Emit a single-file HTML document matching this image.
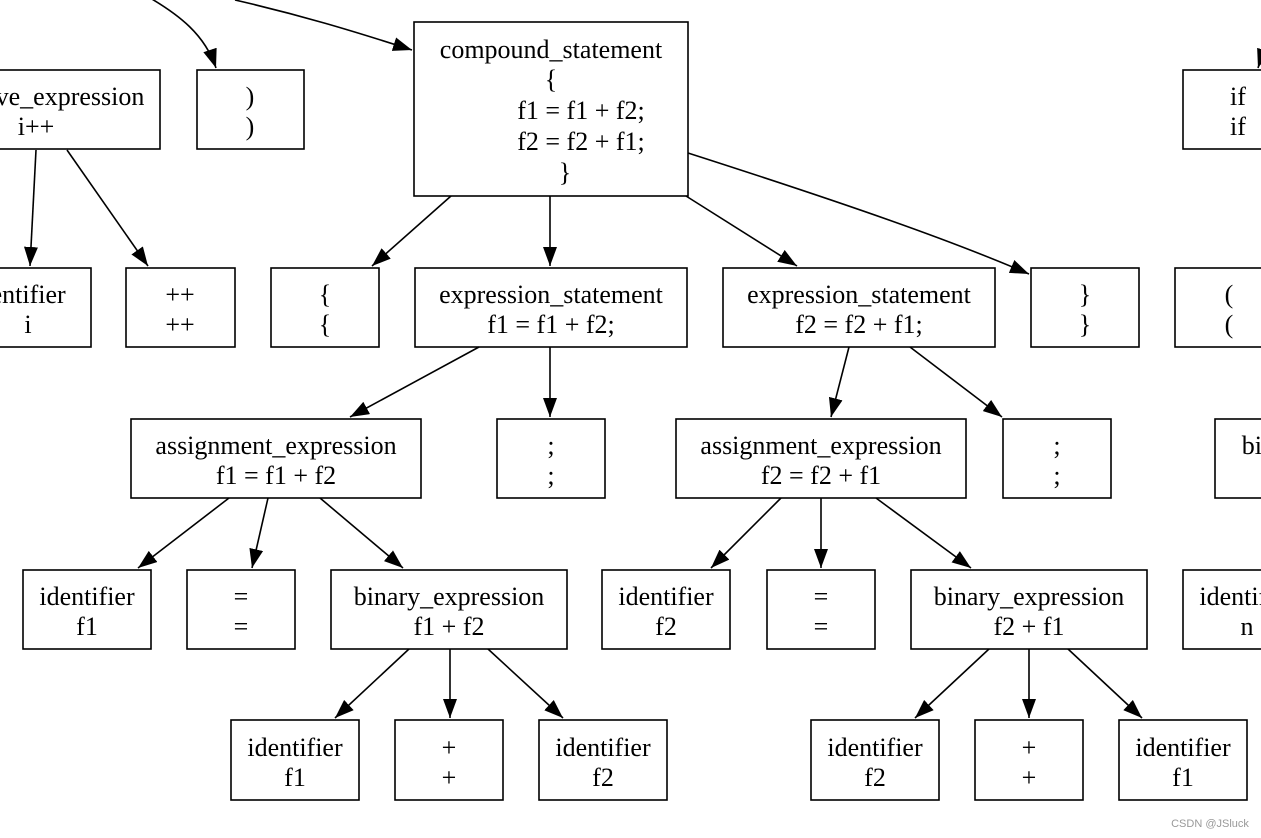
<!DOCTYPE html>
<html><head><meta charset="utf-8"><style>
html,body{margin:0;padding:0;background:#fff;width:1261px;height:838px;overflow:hidden}
svg text{font-family:"Liberation Serif",serif;font-size:26px;fill:#000;text-anchor:middle}
</style></head><body>
<svg width="1261" height="838" viewBox="0 0 1261 838" xmlns="http://www.w3.org/2000/svg">
<defs><marker id="a" markerUnits="userSpaceOnUse" markerWidth="20" markerHeight="14" refX="19" refY="7" orient="auto"><path d="M0,0 L19,7 L0,14 Z" fill="#000"/></marker></defs>
<g fill="none" stroke="#000" stroke-width="1.6">
<rect x="-60" y="70" width="220" height="79"/>
<rect x="197" y="70" width="107" height="79"/>
<rect x="414" y="22" width="274" height="174"/>
<rect x="1183" y="70" width="100" height="79"/>
<rect x="-40" y="268" width="131" height="79"/>
<rect x="126" y="268" width="109" height="79"/>
<rect x="271" y="268" width="108" height="79"/>
<rect x="415" y="268" width="272" height="79"/>
<rect x="723" y="268" width="272" height="79"/>
<rect x="1031" y="268" width="108" height="79"/>
<rect x="1175" y="268" width="110" height="79"/>
<rect x="131" y="419" width="290" height="79"/>
<rect x="497" y="419" width="108" height="79"/>
<rect x="676" y="419" width="290" height="79"/>
<rect x="1003" y="419" width="108" height="79"/>
<rect x="1215" y="419" width="80" height="79"/>
<rect x="23" y="570" width="128" height="79"/>
<rect x="187" y="570" width="108" height="79"/>
<rect x="331" y="570" width="236" height="79"/>
<rect x="602" y="570" width="128" height="79"/>
<rect x="767" y="570" width="108" height="79"/>
<rect x="911" y="570" width="236" height="79"/>
<rect x="1183" y="570" width="100" height="79"/>
<rect x="231" y="720" width="128" height="80"/>
<rect x="395" y="720" width="108" height="80"/>
<rect x="539" y="720" width="128" height="80"/>
<rect x="811" y="720" width="128" height="80"/>
<rect x="975" y="720" width="108" height="80"/>
<rect x="1119" y="720" width="128" height="80"/>
</g>
<g fill="none" stroke="#000" stroke-width="1.6" marker-end="url(#a)">
<path d="M145,-5 C180,15 205,35 216,68"/>
<path d="M235,0 C300,15 350,30 412,50"/>
<path d="M1275,15 L1258,68"/>
<path d="M36,150 L30,266"/>
<path d="M67,150 L148,266"/>
<path d="M451,196 L372,266"/>
<path d="M550,196 L550,266"/>
<path d="M686,196 L797,266"/>
<path d="M688,153 C850,205 950,240 1029,274"/>
<path d="M479,347 L350,417"/>
<path d="M550,347 L550,417"/>
<path d="M849,347 L831,417"/>
<path d="M910,347 L1002,417"/>
<path d="M229,498 L138,568"/>
<path d="M268,498 L252,568"/>
<path d="M320,498 L403,568"/>
<path d="M781,498 L711,568"/>
<path d="M821,498 L821,568"/>
<path d="M876,498 L971,568"/>
<path d="M409,649 L335,718"/>
<path d="M450,649 L450,718"/>
<path d="M488,649 L563,718"/>
<path d="M989,649 L915,718"/>
<path d="M1029,649 L1029,718"/>
<path d="M1068,649 L1142,718"/>
</g>
<text x="70" y="105">ve_expression</text><text x="36" y="135">i++</text>
<text x="250" y="105">)</text><text x="250" y="135">)</text>
<text x="551" y="58">compound_statement</text><text x="551" y="88">{</text><text x="581" y="119">f1 = f1 + f2;</text><text x="581" y="150">f2 = f2 + f1;</text><text x="565" y="181">}</text>
<text x="1238" y="105">if</text><text x="1238" y="135">if</text>
<text x="18" y="303">identifier</text><text x="28" y="333">i</text>
<text x="180" y="303">++</text><text x="180" y="333">++</text>
<text x="325" y="303">{</text><text x="325" y="333">{</text>
<text x="551" y="303">expression_statement</text><text x="551" y="333">f1 = f1 + f2;</text>
<text x="859" y="303">expression_statement</text><text x="859" y="333">f2 = f2 + f1;</text>
<text x="1085" y="303">}</text><text x="1085" y="333">}</text>
<text x="1229" y="303">(</text><text x="1229" y="333">(</text>
<text x="276" y="454">assignment_expression</text><text x="276" y="484">f1 = f1 + f2</text>
<text x="551" y="454">;</text><text x="551" y="484">;</text>
<text x="821" y="454">assignment_expression</text><text x="821" y="484">f2 = f2 + f1</text>
<text x="1057" y="454">;</text><text x="1057" y="484">;</text>
<text x="1275" y="454">binary</text>
<text x="87" y="605">identifier</text><text x="87" y="635">f1</text>
<text x="241" y="605">=</text><text x="241" y="635">=</text>
<text x="449" y="605">binary_expression</text><text x="449" y="635">f1 + f2</text>
<text x="666" y="605">identifier</text><text x="666" y="635">f2</text>
<text x="821" y="605">=</text><text x="821" y="635">=</text>
<text x="1029" y="605">binary_expression</text><text x="1029" y="635">f2 + f1</text>
<text x="1247" y="605">identifier</text><text x="1247" y="635">n</text>
<text x="295" y="756">identifier</text><text x="295" y="786">f1</text>
<text x="449" y="756">+</text><text x="449" y="786">+</text>
<text x="603" y="756">identifier</text><text x="603" y="786">f2</text>
<text x="875" y="756">identifier</text><text x="875" y="786">f2</text>
<text x="1029" y="756">+</text><text x="1029" y="786">+</text>
<text x="1183" y="756">identifier</text><text x="1183" y="786">f1</text>
<text x="1210" y="827" style="font-family:'Liberation Sans',sans-serif;font-size:11px;fill:#999">CSDN @JSluck</text>
</svg>
</body></html>
